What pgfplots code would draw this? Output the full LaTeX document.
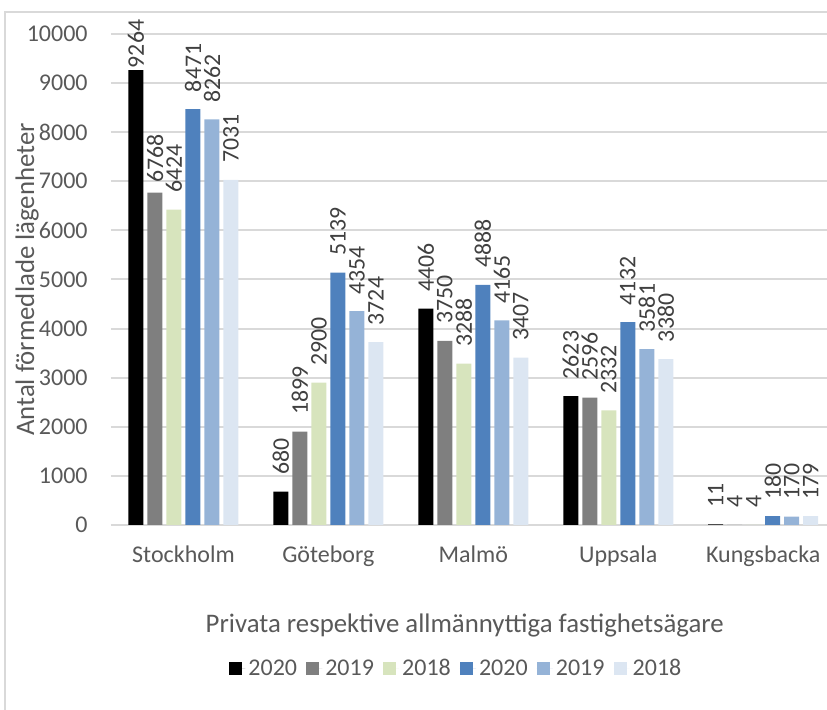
\documentclass[border=0pt]{standalone}
\usepackage{pgfplots}
\pgfplotsset{compat=1.18}
\usepackage{pgfplotstable}
\usepackage{fontspec}
\setmainfont{Carlito}

\definecolor{txt}{HTML}{595959}
\definecolor{lbl}{HTML}{404040}
\definecolor{gridc}{HTML}{D9D9D9}
\definecolor{pA}{HTML}{000000}
\definecolor{pB}{HTML}{7F7F7F}
\definecolor{pC}{HTML}{D7E4BD}
\definecolor{aA}{HTML}{4F81BD}
\definecolor{aB}{HTML}{95B3D7}
\definecolor{aC}{HTML}{DCE6F2}

% x: 0 Stockholm, 1 Göteborg, 2 Malmö, 3 Uppsala, 4 Kungsbacka
% ga, gb = label gap (pt) for the first two series
\pgfplotstableread{
x a20  ga  a19  gb  a18  b20  b19  b18
0 9264 1   6768 5   6424 8471 8262 7031
1 680  8.5 1899 8.5 2900 5139 4354 3724
2 4406 8.5 3750 8.5 3288 4888 4165 3407
3 2623 8.5 2596 8.5 2332 4132 3581 3380
4 11   8.5 4    8.5 4    180  170  179
}\data

\pgfplotsset{sqleg/.style={legend image code/.code={%
  \fill[##1] (0pt,-3.3pt) rectangle (6.6pt,3.3pt);
  \path (0pt,0pt) -- (8.1pt,0pt);}}}

\begin{document}
\begin{tikzpicture}
\begin{axis}[
  at={(55.5pt,92.5pt)}, anchor=south west,
  scale only axis, width=358pt, height=245.5pt,
  ybar=2pt, bar width=7.5pt,
  xmin=-0.5, xmax=4.44, ymin=0, ymax=10000,
  xtick={0,1,2,3,4},
  xticklabels={Stockholm,Göteborg,Malmö,Uppsala,Kungsbacka},
  ytick={0,1000,...,10000},
  scaled y ticks=false,
  ymajorgrids, grid style={gridc, line width=1pt},
  axis x line*=bottom, axis y line*=left,
  x axis line style={gridc, line width=1pt, -},
  y axis line style={draw=none},
  major tick length=0pt,
  font=\fontsize{12}{14}\selectfont,
  tick label style={text=txt, inner sep=0pt},
  xticklabel style={anchor=base, yshift=-19pt},
  yticklabel style={anchor=east, xshift=-11.5pt},
  /pgf/number format/assume math mode=true,
  /pgf/number format/1000 sep={},
  ylabel={Antal förmedlade lägenheter},
  ylabel style={at={(axis description cs:-0.117,0.5)}, anchor=center, text=txt,
    font=\fontsize{13.4}{16}\selectfont},
  xlabel={Privata respektive allmännyttiga fastighetsägare},
  xlabel style={at={(axis description cs:0.494,-0.218)}, anchor=base, text=txt,
    font=\fontsize{13.4}{16}\selectfont},
  legend columns=6,
  legend style={at={(0.483,-0.293)}, anchor=center, draw=none, fill=none,
    font=\fontsize{12}{14}\selectfont, nodes={text=txt, inner sep=1.5pt},
    /tikz/every even column/.append style={column sep=3pt}},
  nodes near coords,
  every node near coord/.append style={rotate=90, anchor=west, inner sep=0pt,
    outer xsep=8.5pt, text=lbl, font=\fontsize{11.9}{14}\selectfont},
  clip=false,
]
\addplot[fill=pA, draw=none, sqleg, visualization depends on={\thisrow{ga} \as \gap},
  every node near coord/.append style={outer xsep=\gap pt}] table[x=x, y=a20] {\data};
\addplot[fill=pB, draw=none, sqleg, visualization depends on={\thisrow{gb} \as \gap},
  every node near coord/.append style={outer xsep=\gap pt}] table[x=x, y=a19] {\data};
\addplot[fill=pC, draw=none, sqleg] table[x=x, y=a18] {\data};
\addplot[fill=aA, draw=none, sqleg] table[x=x, y=b20] {\data};
\addplot[fill=aB, draw=none, sqleg] table[x=x, y=b19] {\data};
\addplot[fill=aC, draw=none, sqleg] table[x=x, y=b18] {\data};
\legend{2020, 2019, 2018, 2020, 2019, 2018}
\end{axis}
\draw[gridc, line width=1pt] (2.5pt,0pt) -- (2.5pt,349pt) -- (414pt,349pt);
\pgfresetboundingbox
\useasboundingbox (0pt,0pt) rectangle (413.5pt,355pt);
\end{tikzpicture}
\end{document}
